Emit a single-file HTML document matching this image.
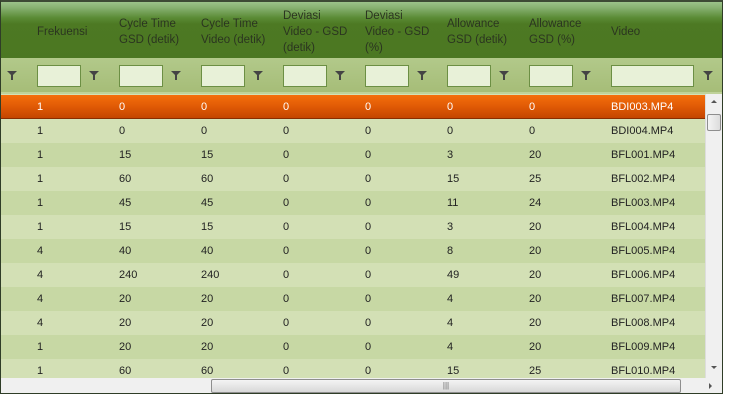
<!DOCTYPE html>
<html><head><meta charset="utf-8"><style>
*{margin:0;padding:0;box-sizing:border-box}
body{width:734px;height:400px;background:#fff;position:relative;overflow:hidden;font-family:"Liberation Sans","DejaVu Sans",sans-serif;font-size:11px}
#g{position:absolute;left:0;top:0;width:723px;height:394px;border:1px solid #2f3d27;border-top:2px solid #3d4a35;overflow:hidden;background:#d3e0b5}
#hd{position:absolute;left:0;top:0;width:721px;height:56px;background:linear-gradient(#9cc38a 0px,#86b070 6px,#5a8a34 16px,#4d7923 22px,#4b7722 56px)}
.h{position:absolute;color:#2b3520;line-height:16px;font-size:11.5px}
#fr{position:absolute;left:0;top:56px;width:721px;height:36px;background:linear-gradient(#b2c98a,#a6bd78);border-bottom:2px solid #bfd29a}
.fb{position:absolute;top:7px;height:22px;background:#e8f1d8;border:1px solid #6c8f44}
.fn{position:absolute;top:13px;width:0;height:0;border-left:5px solid transparent;border-right:5px solid transparent;border-top:5px solid #444}
.fn:after{content:"";position:absolute;left:-1px;top:-1px;width:2px;height:5px;background:#444}
.r{position:absolute;left:0;width:704px;height:24px;line-height:25px;color:#222}
.r span{position:absolute;top:0}
.sel{background:linear-gradient(#f56f0c,#e05a05 50%,#c44500);color:#fff;border-bottom:1px solid #8a2d00;height:24px}
.a{background:#d3e0b5}.b{background:#c7d8a4}
#vs{position:absolute;left:704px;top:92px;width:17px;height:284px;background:#f0f0f0;border-left:1px solid #ddd}
#hs{position:absolute;left:0;top:376px;width:721px;height:16px;background:#f0f0f0}
</style></head><body>
<div id="g">
<div id="hd">
<div class="h" style="left:36px;top:22px">Frekuensi</div>
<div class="h" style="left:118px;top:14px">Cycle Time<br>GSD (detik)</div>
<div class="h" style="left:200px;top:14px">Cycle Time<br>Video (detik)</div>
<div class="h" style="left:282px;top:6px">Deviasi<br>Video - GSD<br>(detik)</div>
<div class="h" style="left:364px;top:6px">Deviasi<br>Video - GSD<br>(%)</div>
<div class="h" style="left:446px;top:14px">Allowance<br>GSD (detik)</div>
<div class="h" style="left:528px;top:14px">Allowance<br>GSD (%)</div>
<div class="h" style="left:610px;top:22px">Video</div>
</div>
<div id="fr">
<div class="fn" style="left:6px"></div>
<div class="fb" style="left:36px;width:44px"></div><div class="fn" style="left:88px"></div>
<div class="fb" style="left:118px;width:44px"></div><div class="fn" style="left:170px"></div>
<div class="fb" style="left:200px;width:44px"></div><div class="fn" style="left:252px"></div>
<div class="fb" style="left:282px;width:44px"></div><div class="fn" style="left:334px"></div>
<div class="fb" style="left:364px;width:44px"></div><div class="fn" style="left:416px"></div>
<div class="fb" style="left:446px;width:44px"></div><div class="fn" style="left:498px"></div>
<div class="fb" style="left:528px;width:44px"></div><div class="fn" style="left:580px"></div>
<div class="fb" style="left:610px;width:83px"></div><div class="fn" style="left:702px"></div>
</div>
<div class="r sel" style="top:93px"><span style="left:36px">1</span><span style="left:118px">0</span><span style="left:200px">0</span><span style="left:282px">0</span><span style="left:364px">0</span><span style="left:446px">0</span><span style="left:528px">0</span><span style="left:610px">BDI003.MP4</span></div>
<div class="r a" style="top:117px"><span style="left:36px">1</span><span style="left:118px">0</span><span style="left:200px">0</span><span style="left:282px">0</span><span style="left:364px">0</span><span style="left:446px">0</span><span style="left:528px">0</span><span style="left:610px">BDI004.MP4</span></div>
<div class="r b" style="top:141px"><span style="left:36px">1</span><span style="left:118px">15</span><span style="left:200px">15</span><span style="left:282px">0</span><span style="left:364px">0</span><span style="left:446px">3</span><span style="left:528px">20</span><span style="left:610px">BFL001.MP4</span></div>
<div class="r a" style="top:165px"><span style="left:36px">1</span><span style="left:118px">60</span><span style="left:200px">60</span><span style="left:282px">0</span><span style="left:364px">0</span><span style="left:446px">15</span><span style="left:528px">25</span><span style="left:610px">BFL002.MP4</span></div>
<div class="r b" style="top:189px"><span style="left:36px">1</span><span style="left:118px">45</span><span style="left:200px">45</span><span style="left:282px">0</span><span style="left:364px">0</span><span style="left:446px">11</span><span style="left:528px">24</span><span style="left:610px">BFL003.MP4</span></div>
<div class="r a" style="top:213px"><span style="left:36px">1</span><span style="left:118px">15</span><span style="left:200px">15</span><span style="left:282px">0</span><span style="left:364px">0</span><span style="left:446px">3</span><span style="left:528px">20</span><span style="left:610px">BFL004.MP4</span></div>
<div class="r b" style="top:237px"><span style="left:36px">4</span><span style="left:118px">40</span><span style="left:200px">40</span><span style="left:282px">0</span><span style="left:364px">0</span><span style="left:446px">8</span><span style="left:528px">20</span><span style="left:610px">BFL005.MP4</span></div>
<div class="r a" style="top:261px"><span style="left:36px">4</span><span style="left:118px">240</span><span style="left:200px">240</span><span style="left:282px">0</span><span style="left:364px">0</span><span style="left:446px">49</span><span style="left:528px">20</span><span style="left:610px">BFL006.MP4</span></div>
<div class="r b" style="top:285px"><span style="left:36px">4</span><span style="left:118px">20</span><span style="left:200px">20</span><span style="left:282px">0</span><span style="left:364px">0</span><span style="left:446px">4</span><span style="left:528px">20</span><span style="left:610px">BFL007.MP4</span></div>
<div class="r a" style="top:309px"><span style="left:36px">4</span><span style="left:118px">20</span><span style="left:200px">20</span><span style="left:282px">0</span><span style="left:364px">0</span><span style="left:446px">4</span><span style="left:528px">20</span><span style="left:610px">BFL008.MP4</span></div>
<div class="r b" style="top:333px"><span style="left:36px">1</span><span style="left:118px">20</span><span style="left:200px">20</span><span style="left:282px">0</span><span style="left:364px">0</span><span style="left:446px">4</span><span style="left:528px">20</span><span style="left:610px">BFL009.MP4</span></div>
<div class="r a" style="top:357px"><span style="left:36px">1</span><span style="left:118px">60</span><span style="left:200px">60</span><span style="left:282px">0</span><span style="left:364px">0</span><span style="left:446px">15</span><span style="left:528px">25</span><span style="left:610px">BFL010.MP4</span></div>
<div id="vs">
<div style="position:absolute;left:5px;top:6px;border-left:3px solid transparent;border-right:3px solid transparent;border-bottom:3px solid #555"></div>
<div style="position:absolute;left:1px;top:20px;width:14px;height:17px;background:linear-gradient(90deg,#f4f4f4,#dcdcdc);border:1px solid #8e8e8e;border-radius:2px"></div>
<div style="position:absolute;left:5px;top:272px;border-left:3px solid transparent;border-right:3px solid transparent;border-top:3px solid #555"></div>
</div>
<div id="hs">
<div style="position:absolute;left:210px;top:1px;width:470px;height:14px;background:linear-gradient(#f4f4f4,#d8d8d8);border:1px solid #8e8e8e;border-radius:2px;text-align:center;font-size:8px;line-height:12px;color:#666">|||</div>
<div style="position:absolute;left:708px;top:5px;border-top:3px solid transparent;border-bottom:3px solid transparent;border-left:3px solid #555"></div>
</div>
</div>
</body></html>
